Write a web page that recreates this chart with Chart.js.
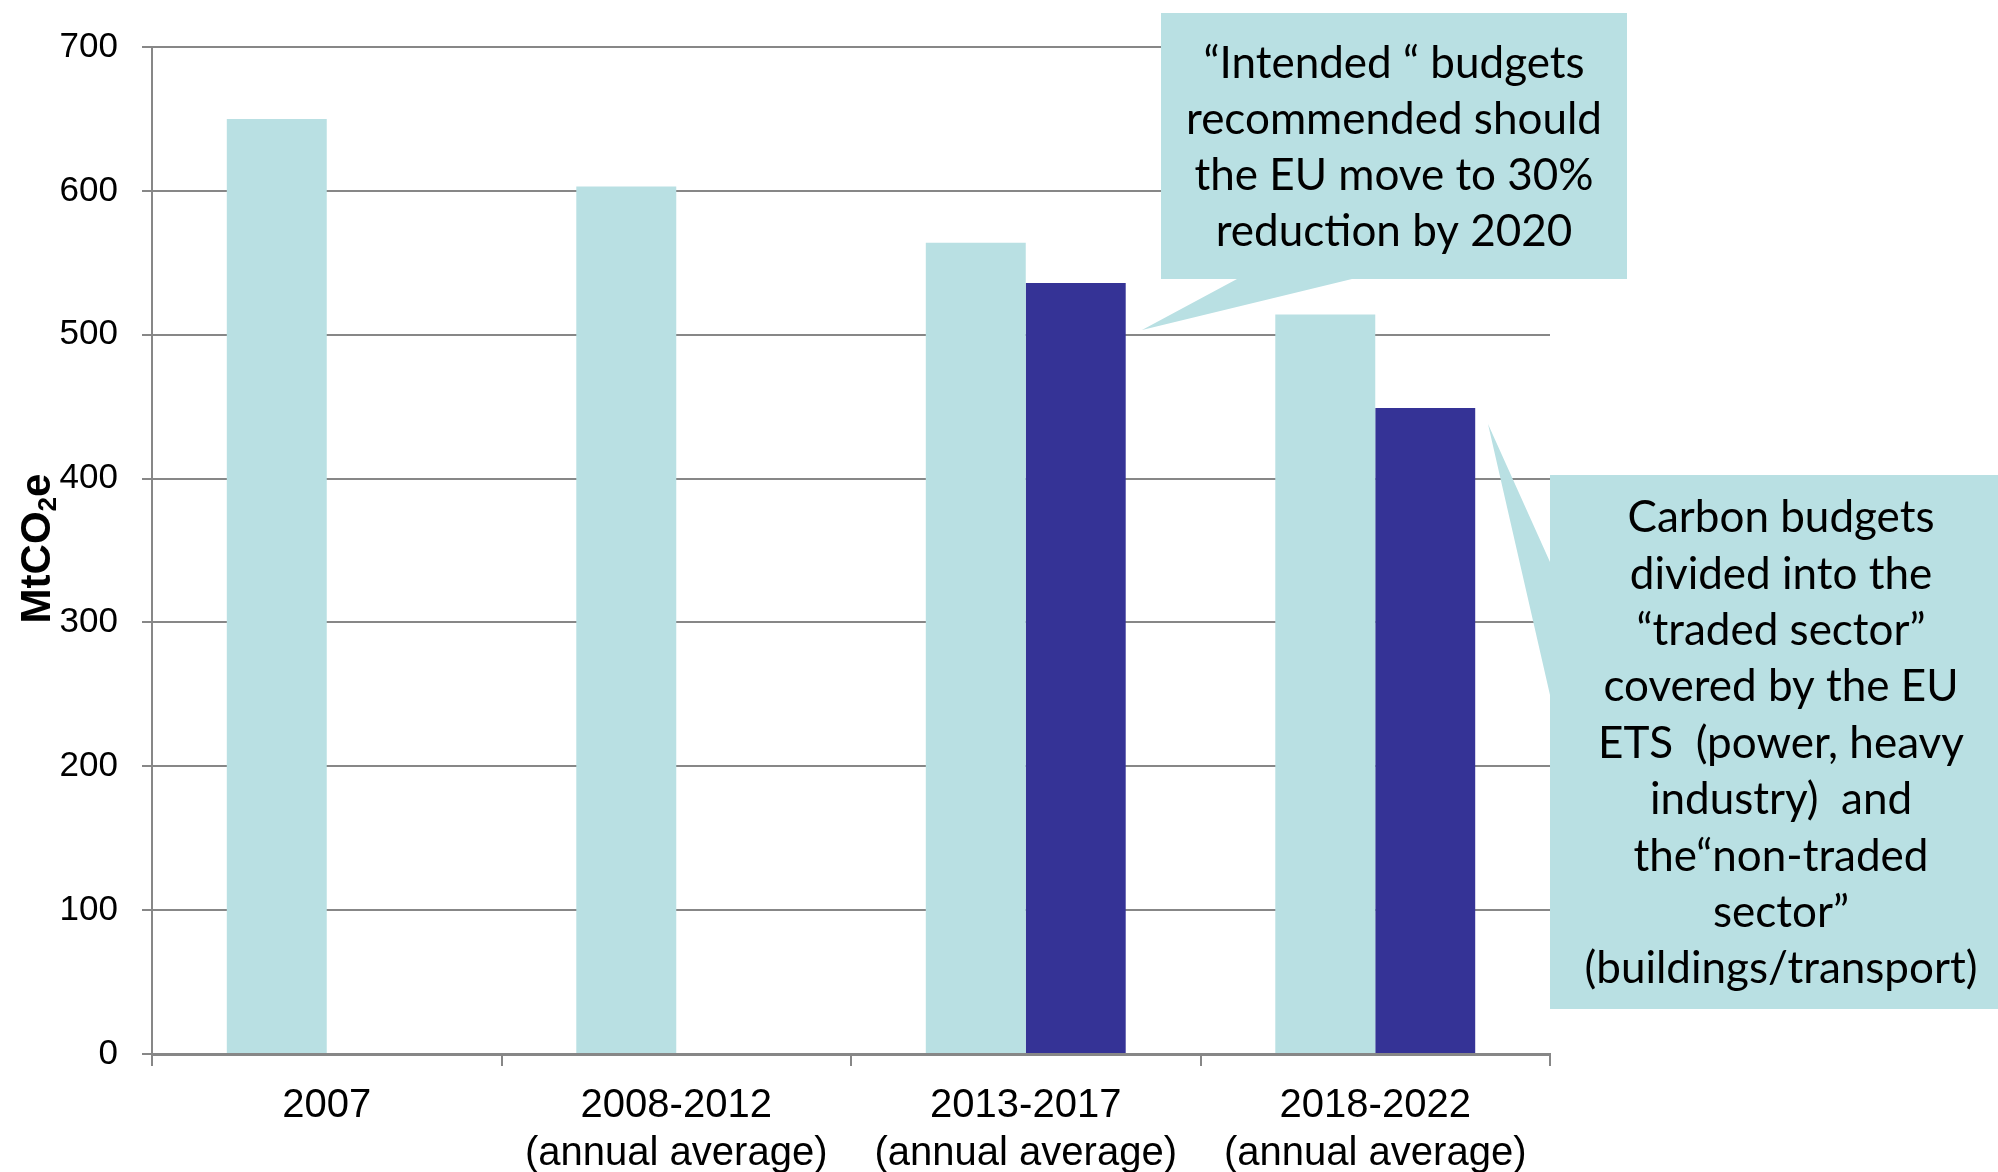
<!DOCTYPE html>
<html>
<head>
<meta charset="utf-8">
<script src="https://cdn.jsdelivr.net/npm/chart.js@4.4.1/dist/chart.umd.min.js"></script>
<style>
  html, body { margin: 0; padding: 0; background: #fff; }
  #budgets { display: block; }
</style>
</head>
<body>
<canvas id="budgets" width="1998" height="1172"></canvas>
<script>
// budget periods along the x axis
var periods = [
  '2007',
  ['2008-2012', '(annual average)'],
  ['2013-2017', '(annual average)'],
  ['2018-2022', '(annual average)']
];

// MtCO2e per year
var interimBudget = [650, 603, 564, 514];
var intendedBudget = [null, null, 536, 449];

var yMin = 0, yMax = 700, yStep = 100;

var intendedNote = [
  '\u201cIntended \u201c budgets',
  'recommended should',
  'the EU move to 30%',
  'reduction by 2020'
];
var sectorNote = [
  'Carbon budgets',
  'divided into the',
  '\u201ctraded sector\u201d',
  'covered by the EU',
  'ETS  (power, heavy',
  'industry)  and',
  'the\u201cnon-traded',
  'sector\u201d',
  '(buildings/transport)'
];

var lightTeal = '#b9e0e3';
var darkBlue = '#353396';
var axisGrey = '#878787';
var axisFont = '"Liberation Sans", Arial, sans-serif';
var noteFont = 'Lato, "Open Sans", sans-serif';

// rotated y title with a subscript 2
var yTitle = {
  id: 'yTitle',
  afterDraw: function(chart) {
    var ctx = chart.ctx;
    var area = chart.chartArea;
    var big = 'bold 42px ' + axisFont, small = 'bold 26px ' + axisFont;
    ctx.save();
    ctx.translate(50, (area.top + area.bottom) / 2 - 2);
    ctx.rotate(-Math.PI / 2);
    ctx.fillStyle = '#000';
    ctx.textBaseline = 'alphabetic';
    ctx.font = big;
    var w1 = ctx.measureText('MtCO').width, w3 = ctx.measureText('e').width;
    ctx.font = small;
    var w2 = ctx.measureText('2').width;
    var x = -(w1 + w2 + w3) / 2;
    ctx.font = big;
    ctx.fillText('MtCO', x, 0);
    ctx.font = small;
    ctx.fillText('2', x + w1, 6);
    ctx.font = big;
    ctx.fillText('e', x + w1 + w2, 0);
    ctx.restore();
  }
};

// speech-bubble notes beside the bars
var notes = {
  id: 'notes',
  afterDraw: function(chart) {
    var ctx = chart.ctx;
    ctx.save();
    ctx.fillStyle = lightTeal;

    ctx.beginPath();
    ctx.moveTo(1161, 13);
    ctx.lineTo(1627, 13);
    ctx.lineTo(1627, 279);
    ctx.lineTo(1352, 279);
    ctx.lineTo(1142, 330);
    ctx.lineTo(1237, 279);
    ctx.lineTo(1161, 279);
    ctx.closePath();
    ctx.fill();

    ctx.beginPath();
    ctx.moveTo(1550, 475);
    ctx.lineTo(2010, 475);
    ctx.lineTo(2010, 1009);
    ctx.lineTo(1550, 1009);
    ctx.lineTo(1550, 695);
    ctx.lineTo(1488, 424);
    ctx.lineTo(1550, 562);
    ctx.closePath();
    ctx.fill();

    ctx.fillStyle = '#000';
    ctx.font = '44px ' + noteFont;
    ctx.textAlign = 'center';
    ctx.textBaseline = 'middle';
    intendedNote.forEach(function(line, i) {
      ctx.fillText(line, 1394, 64 + i * 56);
    });
    sectorNote.forEach(function(line, i) {
      ctx.fillText(line, 1781, 518 + i * 56.4);
    });
    ctx.restore();
  }
};

new Chart(document.getElementById('budgets'), {
  type: 'bar',
  data: {
    labels: periods,
    datasets: [
      {
        label: 'Interim budget',
        data: interimBudget,
        backgroundColor: lightTeal,
        borderWidth: 0
      },
      {
        label: 'Intended budget',
        data: intendedBudget,
        backgroundColor: darkBlue,
        borderWidth: 0
      }
    ]
  },
  options: {
    responsive: false,
    animation: false,
    devicePixelRatio: 1,
    categoryPercentage: 0.572,
    barPercentage: 1.0,
    layout: { padding: { top: 47, right: 448, left: 0, bottom: 0 } },
    plugins: {
      legend: { display: false },
      tooltip: { enabled: false }
    },
    scales: {
      x: {
        grid: {
          display: true,
          drawOnChartArea: false,
          offset: true,
          color: axisGrey,
          lineWidth: 2,
          tickLength: 12
        },
        border: { display: true, color: axisGrey, width: 3 },
        ticks: {
          color: '#000',
          font: { family: axisFont, size: 40, lineHeight: 1.2 },
          padding: 16,
          maxRotation: 0,
          autoSkip: false
        },
        afterFit: function(scale) { scale.height = 118; }
      },
      y: {
        min: yMin,
        max: yMax,
        grid: {
          color: axisGrey,
          lineWidth: 2,
          tickLength: 10
        },
        border: { display: true, color: axisGrey, width: 2 },
        ticks: {
          stepSize: yStep,
          color: '#000',
          font: { family: axisFont, size: 35 },
          padding: 24
        },
        afterFit: function(scale) { scale.width = 152; }
      }
    }
  },
  plugins: [yTitle, notes]
});
</script>
</body>
</html>
